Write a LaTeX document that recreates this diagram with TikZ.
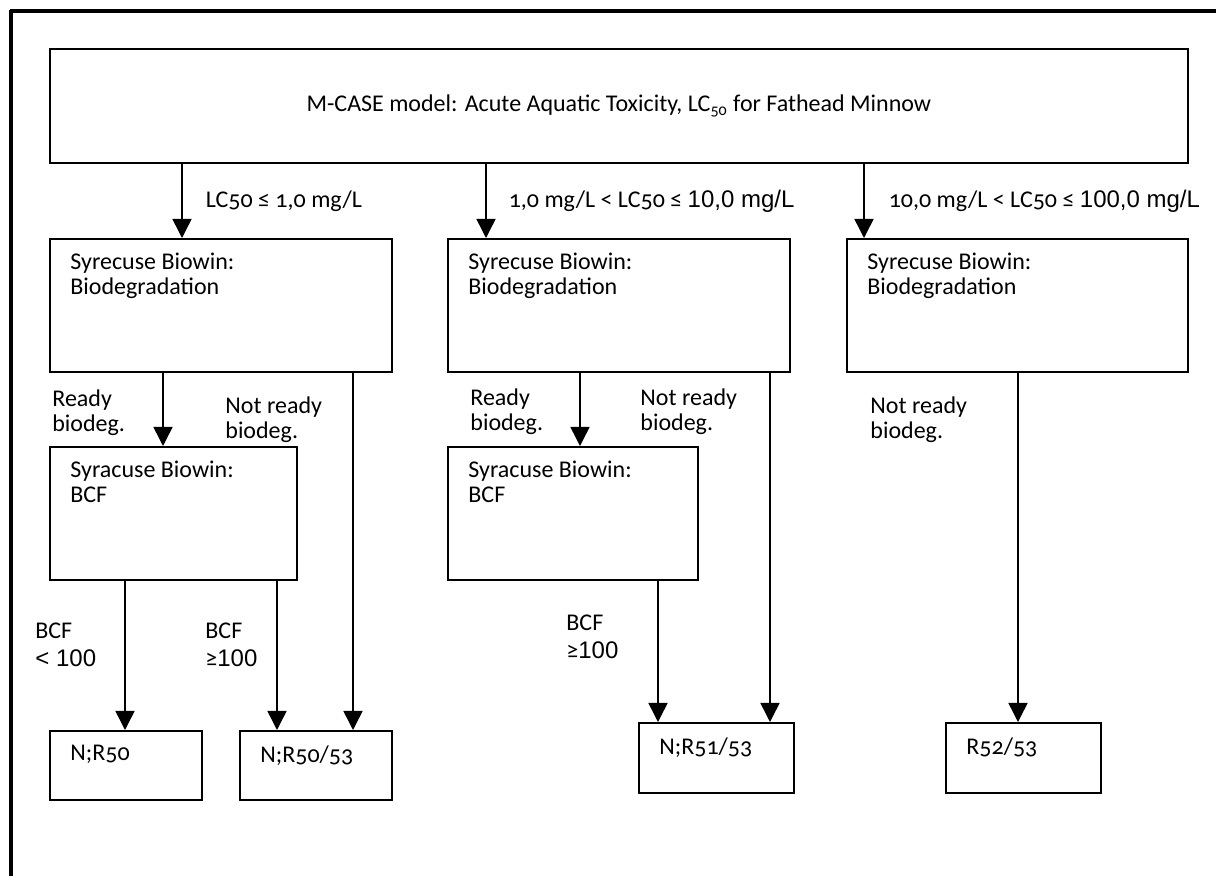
\documentclass[tikz,border=0pt]{standalone}
\usepackage{fontspec}
\setmainfont{Carlito}[Numbers=OldStyle]
\newfontfamily\arialf{Liberation Sans}
\usepackage{tikz}
\usetikzlibrary{arrows.meta, positioning}

\begin{document}
\begin{tikzpicture}[
    x=0.5pt, y=-0.5pt,
    every node/.style={font=\fontsize{12}{12.5}\selectfont},
    box/.style={draw, line width=0.9pt, anchor=north west, minimum height=66.5pt, inner sep=0pt},
    txt/.style={inner sep=0pt, align=left},
    arrow/.style={-{Triangle[length=9.5pt, width=9.5pt]}, line width=0.75pt}
]
\useasboundingbox (0,0) rectangle (1216,876);

% cadre
\draw[line width=1.75pt] (11,876) -- (11,10);
\draw[line width=1.75pt] (10,11) -- (1216,11);

% modele M-CASE
\node[box, minimum width=569pt, minimum height=57pt] (top) at (49,48)
    {M-CASE model: Acute Aquatic Toxicity, LC\textsubscript{50} for Fathead Minnow};

% Biowin : biodegradation
\node[box, minimum width=171pt] (bio1) at (49,238) {};
\node[box, minimum width=171pt] (bio2) at (447,238) {};
\node[box, minimum width=170.5pt] (bio3) at (846,238) {};
\node[txt, below right=7.5pt and 10.5pt of bio1.north west] (bio1t) {Syrecuse Biowin:\\Biodegradation};
\node[txt, below right=7.5pt and 10.5pt of bio2.north west] (bio2t) {Syrecuse Biowin:\\Biodegradation};
\node[txt, below right=7.5pt and 10.5pt of bio3.north west] (bio3t) {Syrecuse Biowin:\\Biodegradation};

% Biowin : BCF
\node[box, minimum width=123.5pt] (bcf1) at (49,446) {};
\node[box, minimum width=125pt] (bcf2) at (447,446) {};
\node[txt, below right=7.5pt and 10.5pt of bcf1.north west] (bcf1t) {Syracuse Biowin:\\BCF};
\node[txt, below right=7.5pt and 10.5pt of bcf2.north west] (bcf2t) {Syracuse Biowin:\\BCF};

% classes
\node[box, minimum width=76pt, minimum height=34.5pt] (n50) at (49,730) {};
\node[box, minimum width=76pt, minimum height=34.5pt] (n5053) at (239,730) {};
\node[box, minimum width=77.5pt, minimum height=35pt] (n5153) at (638,722) {};
\node[box, minimum width=77.5pt, minimum height=35pt] (r5253) at (945,722) {};
\node[txt, below right=7.5pt and 10.5pt of n50.north west] (n50t) {N;R50};
\node[txt, below right=7.5pt and 10.5pt of n5053.north west] (n5053t) {N;R50/53};
\node[txt, below right=7.5pt and 10.5pt of n5153.north west] (n5153t) {N;R51/53};
\node[txt, below right=7.5pt and 10.5pt of r5253.north west] (r5253t) {R52/53};

% abscisses des fleches
\coordinate (a1) at (182,0);
\coordinate (a2) at (486,0);
\coordinate (a3) at (864,0);
\coordinate (rd1) at (163,0);
\coordinate (rd2) at (580,0);
\coordinate (nr1) at (353,0);
\coordinate (nr2) at (770,0);
\coordinate (nr3) at (1018,0);
\coordinate (b1) at (125,0);
\coordinate (b2) at (277,0);
\coordinate (b3) at (658,0);

% LC50
\draw[arrow] (top.south -| a1) -- node[txt, right=11.5pt] (lc1) {LC50 ≤ 1,0 mg/L} (bio1.north -| a1);
\draw[arrow] (top.south -| a2) -- node[txt, right=11pt] (lc2) {1,0 mg/L < LC50 ≤ {\arialf 10,0 mg/L}} (bio2.north -| a2);
\draw[arrow] (top.south -| a3) -- node[txt, right=12pt] (lc3) {10,0 mg/L < LC50 ≤ {\arialf 100,0 mg/L}} (bio3.north -| a3);

% biodegradation
\draw[arrow] (bio1.south -| rd1) -- (bcf1.north -| rd1);
\draw[arrow] (bio2.south -| rd2) -- (bcf2.north -| rd2);
\draw[arrow] (bio1.south -| nr1) -- (n5053.north -| nr1);
\draw[arrow] (bio2.south -| nr2) -- (n5153.north -| nr2);
\draw[arrow] (bio3.south -| nr3) -- (r5253.north -| nr3);
\node[txt, anchor=north west] (rdy1) at (52,389) {Ready\\biodeg.};
\node[txt, anchor=north west] (nrd1) at (225,396) {Not ready\\biodeg.};
\node[txt, anchor=north west] (rdy2) at (470,388) {Ready\\biodeg.};
\node[txt, anchor=north west] (nrd2) at (640,388) {Not ready\\biodeg.};
\node[txt, anchor=north west] (nrd3) at (870,396) {Not ready\\biodeg.};

% BCF
\draw[arrow] (bcf1.south -| b1) -- (n50.north -| b1);
\draw[arrow] (bcf1.south -| b2) -- (n5053.north -| b2);
\draw[arrow] (bcf2.south -| b3) -- (n5153.north -| b3);
\node[txt, anchor=north west] (bcfa) at (35,623) {BCF\\[1.5pt]{\arialf < 100}};
\node[txt, anchor=north west] (bcfb) at (205,623) {BCF\\[1.5pt]≥{\arialf 100}};
\node[txt, anchor=north west] (bcfc) at (566,615) {BCF\\[1.5pt]≥{\arialf 100}};

\end{tikzpicture}
\end{document}
